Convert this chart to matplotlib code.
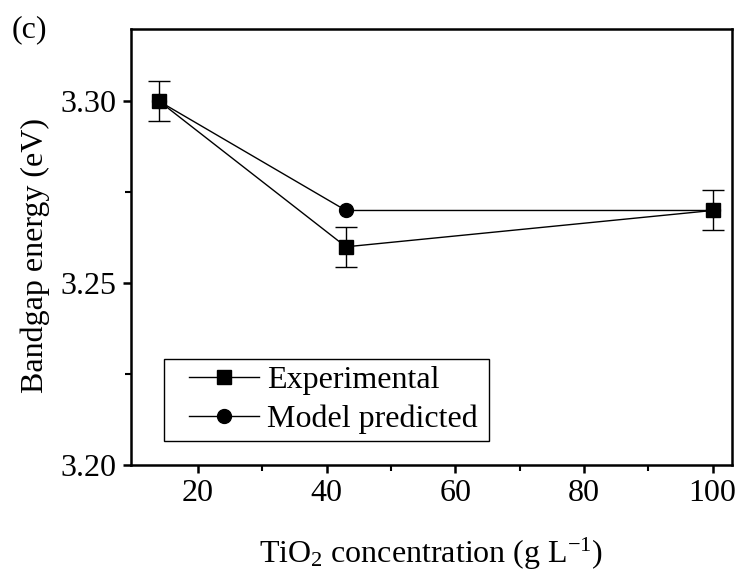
import matplotlib
matplotlib.use('Agg')
import matplotlib.pyplot as plt
from matplotlib.patches import Rectangle
from matplotlib.transforms import IdentityTransform

plt.rcParams['font.family'] = ['Liberation Serif', 'DejaVu Serif']
plt.rcParams['mathtext.fontset'] = 'custom'
plt.rcParams['mathtext.rm'] = 'Liberation Serif'
plt.rcParams['mathtext.it'] = 'Liberation Serif:italic'

# TiO2 loading (g/L) vs bandgap
conc = [14, 43, 100]
exp_bandgap = [3.30, 3.26, 3.27]
exp_err = [0.0055, 0.0055, 0.0055]
model_bandgap = [3.30, 3.27, 3.27]

FS = 23

fig = plt.figure(figsize=(7.46, 5.76), dpi=100)
ax = fig.add_axes([0.175, 0.193, 0.806, 0.757])

ax.errorbar(conc, exp_bandgap, yerr=exp_err, fmt='none', ecolor='black',
            elinewidth=1.0, capsize=8, capthick=1.0, zorder=2)
exp_line, = ax.plot(conc, exp_bandgap, color='black', marker='s', markersize=9.5,
                    linewidth=1.0, label='Experimental', zorder=3)
mod_line, = ax.plot(conc, model_bandgap, color='black', marker='o', markersize=10,
                    linewidth=1.0, label='Model predicted', zorder=3)

ax.set_xlim(9.5, 103)
ax.set_ylim(3.20, 3.32)
ax.set_xticks([20, 40, 60, 80, 100])
ax.set_xticks([30, 50, 70, 90], minor=True)
ax.set_yticks([3.20, 3.25, 3.30])
ax.set_yticks([3.225, 3.275], minor=True)
ax.set_yticklabels(['3.20', '3.25', '3.30'])

for s in ax.spines.values():
    s.set_linewidth(1.8)
ax.tick_params(axis='both', which='major', direction='out', length=6, width=1.8,
               labelsize=FS, pad=4)
ax.tick_params(axis='both', which='minor', direction='out', length=4, width=1.5)

ax.set_xlabel('TiO$_2$ concentration (g L$^{-1}$)', fontsize=FS, labelpad=20)
ax.set_ylabel('Bandgap energy (eV)', fontsize=FS, labelpad=8)
ax.yaxis.label.set_y(0.48)

# legend without its own frame; box drawn afterwards with wider side margins
leg = ax.legend(handles=[exp_line, mod_line], loc='lower left',
                bbox_to_anchor=(0.0855, 0.0546), borderaxespad=0, fontsize=FS,
                frameon=False, handlelength=2.2, borderpad=0.21,
                labelspacing=0.3, handletextpad=0.25)

fig.canvas.draw()
bb = leg.get_window_extent()
pad_l, pad_r = 18, 5
fig.add_artist(Rectangle((bb.x0 - pad_l, bb.y0), bb.width + pad_l + pad_r, bb.height,
                         transform=IdentityTransform(), fill=False,
                         edgecolor='black', linewidth=1.0))

fig.text(0.015, 0.935, '(c)', fontsize=FS, va='baseline')

fig.savefig('out.png', dpi=100)
